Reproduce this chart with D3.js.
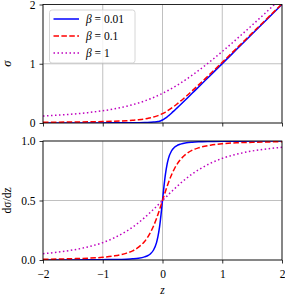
<!DOCTYPE html>
<html>
<head>
<meta charset="utf-8">
<script src="https://cdn.jsdelivr.net/npm/d3@7"></script>
<style>
  body { margin: 0; background: #fff; }
  svg text { font-family: "Liberation Serif", "Times New Roman", serif; }
</style>
</head>
<body>
<div id="chart"></div>
<script>
// sample points along z (denser round 0 where the curves bend)
const zs = [-2, -1.75, -1.5, -1.25, -1, -0.8, -0.6, -0.5, -0.4, -0.3, -0.25, -0.2, -0.15, -0.1, -0.075, -0.05, -0.025,
  0, 0.025, 0.05, 0.075, 0.1, 0.15, 0.2, 0.25, 0.3, 0.4, 0.5, 0.6, 0.8, 1, 1.25, 1.5, 1.75, 2]

// sigma(z)
const sigmaB001 = [0.001, 0.001, 0.002, 0.002, 0.002, 0.003, 0.004, 0.005, 0.006, 0.008, 0.010, 0.012, 0.015, 0.021, 0.025, 0.031, 0.039,
  0.050, 0.064, 0.081, 0.100, 0.121, 0.165, 0.212, 0.260, 0.308, 0.406, 0.505, 0.604, 0.803, 1.002, 1.252, 1.502, 1.751, 2.001]
const sigmaB01 = [0.012, 0.014, 0.017, 0.020, 0.024, 0.030, 0.039, 0.046, 0.055, 0.068, 0.077, 0.087, 0.100, 0.116, 0.125, 0.135, 0.146,
  0.158, 0.171, 0.185, 0.200, 0.216, 0.250, 0.287, 0.327, 0.368, 0.455, 0.546, 0.639, 0.830, 1.024, 1.270, 1.517, 1.764, 2.012]
const sigmaB1 = [0.118, 0.133, 0.151, 0.175, 0.207, 0.240, 0.283, 0.309, 0.339, 0.372, 0.390, 0.410, 0.431, 0.453, 0.464, 0.476, 0.488,
  0.500, 0.513, 0.526, 0.539, 0.553, 0.581, 0.610, 0.640, 0.672, 0.739, 0.809, 0.883, 1.040, 1.207, 1.425, 1.651, 1.883, 2.118]

// dsigma/dz
const dB001 = [0.001, 0.001, 0.001, 0.002, 0.003, 0.004, 0.007, 0.010, 0.015, 0.026, 0.036, 0.053, 0.084, 0.146, 0.200, 0.276, 0.379,
  0.500, 0.621, 0.724, 0.800, 0.854, 0.916, 0.947, 0.964, 0.974, 0.985, 0.990, 0.993, 0.996, 0.998, 0.998, 0.999, 0.999, 0.999]
const dB01 = [0.006, 0.008, 0.011, 0.015, 0.023, 0.035, 0.058, 0.077, 0.108, 0.156, 0.190, 0.233, 0.286, 0.349, 0.385, 0.422, 0.461,
  0.500, 0.539, 0.578, 0.615, 0.651, 0.714, 0.767, 0.810, 0.844, 0.892, 0.923, 0.942, 0.965, 0.977, 0.985, 0.989, 0.992, 0.994]
const dB1 = [0.053, 0.066, 0.084, 0.110, 0.146, 0.188, 0.243, 0.276, 0.314, 0.356, 0.379, 0.402, 0.426, 0.450, 0.463, 0.475, 0.488,
  0.500, 0.512, 0.525, 0.537, 0.550, 0.574, 0.598, 0.621, 0.644, 0.686, 0.724, 0.757, 0.812, 0.854, 0.890, 0.916, 0.934, 0.947]

const betaLabels = ['0.01', '0.1', '1']
const xTicks = [-2, -1, 0, 1, 2]
const topTicks = [0, 1, 2]
const bottomTicks = [0, 0.5, 1]

const styles = [
  { color: '#0000ff', dash: null },
  { color: '#ff0000', dash: '5.5,2.4' },
  { color: '#bf00bf', dash: '1.5,2.5' }
]

const width = 285, height = 297
const left = 43, right = 282
const fontSize = 11.5

const svg = d3.select('#chart').append('svg')
  .attr('width', width)
  .attr('height', height)

const x = d3.scaleLinear().domain([-2, 2]).range([left, right])

const panels = [
  { top: 4.5, bottom: 123, domain: [0, 2], ticks: topTicks, fmt: d3.format('d'), series: [sigmaB001, sigmaB01, sigmaB1], label: 'σ', italic: true, showX: false },
  { top: 141, bottom: 260, domain: [0, 1], ticks: bottomTicks, fmt: d3.format('.1f'), series: [dB001, dB01, dB1], label: 'dσ/dz', italic: false, showX: true }
]

panels.forEach((p, pi) => {
  const y = d3.scaleLinear().domain(p.domain).range([p.bottom, p.top])
  const g = svg.append('g')

  const clipId = 'clip' + pi
  svg.append('clipPath').attr('id', clipId)
    .append('rect')
    .attr('x', left).attr('y', p.top)
    .attr('width', right - left).attr('height', p.bottom - p.top)

  // grid
  g.append('g').selectAll('line')
    .data(xTicks)
    .join('line')
    .attr('x1', d => x(d)).attr('x2', d => x(d))
    .attr('y1', p.top).attr('y2', p.bottom)
    .attr('stroke', '#b0b0b0').attr('stroke-width', 0.8)
  g.append('g').selectAll('line')
    .data(p.ticks)
    .join('line')
    .attr('x1', left).attr('x2', right)
    .attr('y1', d => y(d)).attr('y2', d => y(d))
    .attr('stroke', '#b0b0b0').attr('stroke-width', 0.8)

  // curves
  const line = d3.line()
    .x((d, i) => x(zs[i]))
    .y(d => y(d))
    .curve(d3.curveMonotoneX)
  g.append('g').attr('clip-path', `url(#${clipId})`)
    .selectAll('path')
    .data(p.series)
    .join('path')
    .attr('d', d => line(d))
    .attr('fill', 'none')
    .attr('stroke', (d, i) => styles[i].color)
    .attr('stroke-width', 1.5)
    .attr('stroke-dasharray', (d, i) => styles[i].dash)

  // axes
  const xAxis = d3.axisBottom(x).tickValues(xTicks).tickSizeInner(3.5).tickSizeOuter(0).tickPadding(6.5)
    .tickFormat(p.showX ? (d => d < 0 ? '\u2212' + Math.abs(d) : d) : '')
  const yAxis = d3.axisLeft(y).tickValues(p.ticks).tickSizeInner(3.5).tickSizeOuter(0).tickPadding(4)
    .tickFormat(p.fmt)
  const gx = g.append('g').attr('transform', `translate(0,${p.bottom})`).call(xAxis)
  const gy = g.append('g').attr('transform', `translate(${left},0)`).call(yAxis)
  ;[gx, gy].forEach(a => {
    a.attr('font-family', null).attr('font-size', null)
    a.select('.domain').remove()
    a.selectAll('.tick line').attr('stroke', '#000').attr('stroke-width', 0.8)
    a.selectAll('.tick text').attr('font-size', fontSize).attr('fill', '#000')
  })

  // frame
  g.append('rect')
    .attr('x', left).attr('y', p.top)
    .attr('width', right - left).attr('height', p.bottom - p.top)
    .attr('fill', 'none').attr('stroke', '#000').attr('stroke-width', 0.8)

  // y label
  g.append('text')
    .attr('transform', `translate(11,${(p.top + p.bottom) / 2}) rotate(-90)`)
    .attr('text-anchor', 'middle')
    .attr('font-size', p.italic ? 12.5 : fontSize)
    .attr('font-style', p.italic ? 'italic' : null)
    .text(p.label)
})

svg.append('text')
  .attr('x', (left + right) / 2).attr('y', 294)
  .attr('text-anchor', 'middle')
  .attr('font-size', fontSize)
  .attr('font-style', 'italic')
  .text('z')

// legend
const legend = svg.append('g')
legend.append('rect')
  .attr('x', 49.5).attr('y', 10).attr('width', 85.5).attr('height', 53)
  .attr('rx', 2.5)
  .attr('fill', 'rgba(255,255,255,0.8)')
  .attr('stroke', '#cccccc').attr('stroke-width', 0.8)

const rows = legend.selectAll('g.row')
  .data(betaLabels)
  .join('g')
  .attr('class', 'row')
  .attr('transform', (d, i) => `translate(0,${19 + i * 17})`)
rows.append('line')
  .attr('x1', 53.5).attr('x2', 79)
  .attr('stroke', (d, i) => styles[i].color)
  .attr('stroke-width', 1.5)
  .attr('stroke-dasharray', (d, i) => styles[i].dash)
const lt = rows.append('text')
  .attr('x', 86).attr('y', 4)
  .attr('font-size', fontSize)
lt.append('tspan').attr('font-style', 'italic').text('β')
lt.append('tspan').text(d => ' = ' + d)
</script>
</body>
</html>
